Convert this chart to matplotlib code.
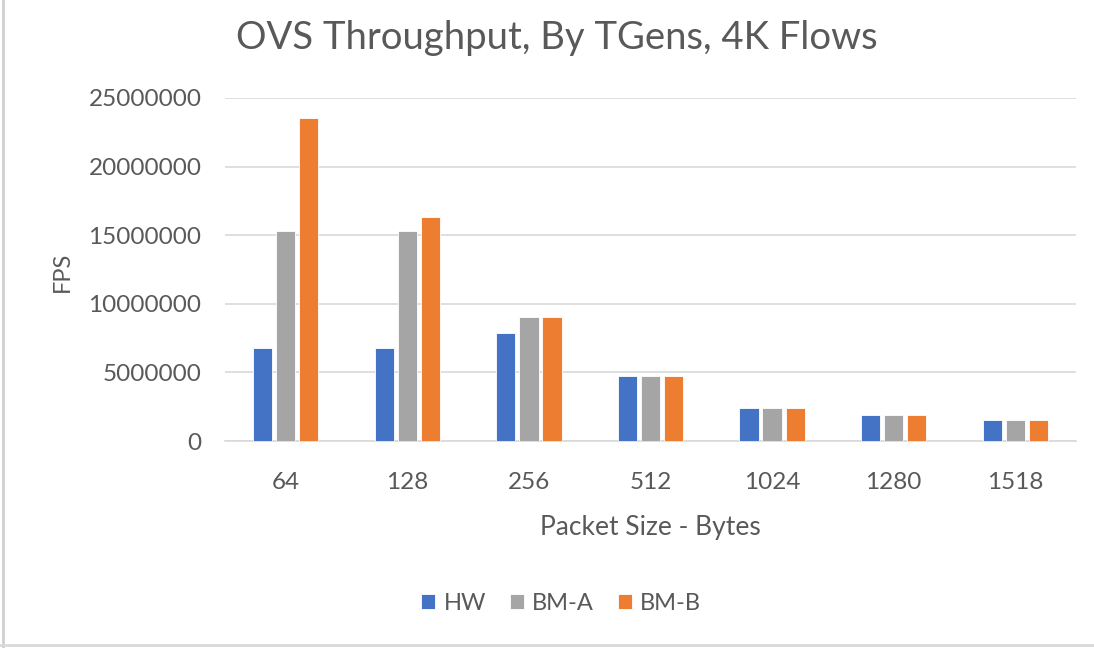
import matplotlib
matplotlib.use("Agg")
import matplotlib.pyplot as plt
import numpy as np
from matplotlib.lines import Line2D

categories = ["64", "128", "256", "512", "1024", "1280", "1518"]
series_names = ["HW", "BM-A", "BM-B"]
hw = [6760000, 6760000, 7900000, 4740000, 2390000, 1900000, 1550000]
bm_a = [15300000, 15300000, 9070000, 4740000, 2390000, 1900000, 1550000]
bm_b = [23530000, 16330000, 9070000, 4740000, 2390000, 1900000, 1550000]
yticks = [0, 5000000, 10000000, 15000000, 20000000, 25000000]
colors = ["#4472C4", "#A5A5A5", "#ED7D31"]
text_color = "#595959"

plt.rcParams['font.family'] = ['Lato', 'DejaVu Sans']

W, H = 1094, 648
fig = plt.figure(figsize=(W / 100, H / 100), dpi=100)
ax = fig.add_axes([225 / W, 1 - 441 / H, (1076 - 225) / W, (441 - 98) / H])

x = np.arange(len(categories))
width = 0.158
pitch = 0.19
for i, (vals, c, name) in enumerate(zip([hw, bm_a, bm_b], colors, series_names)):
    ax.bar(x + (i - 1) * pitch, vals, width=width, color=c, edgecolor="white",
           linewidth=0.6, label=name, zorder=3)

ax.set_xlim(-0.5, len(categories) - 0.5)
ax.set_ylim(0, 25000000)
ax.set_yticks(yticks)
ax.set_yticklabels([str(v) for v in yticks])
ax.set_xticks(x)
ax.set_xticklabels(categories)
ax.yaxis.grid(True, color="#D9D9D9", linewidth=1.2, zorder=0)
ax.set_axisbelow(True)
for s in ["top", "right", "left"]:
    ax.spines[s].set_visible(False)
ax.spines["bottom"].set_color("#D9D9D9")
ax.spines["bottom"].set_linewidth(1.2)
ax.tick_params(axis="both", length=0, colors=text_color, labelsize=17.5)
ax.tick_params(axis="y", pad=17)
ax.tick_params(axis="x", pad=22)

ax.set_xlabel("Packet Size - Bytes", fontsize=19, color=text_color, labelpad=16)
fig.text(62 / W, 1 - 272 / H, "FPS", rotation=90, fontsize=17, color=text_color,
         ha="center", va="center")
fig.text(557 / W, 1 - 38 / H, "OVS Throughput, By TGens, 4K Flows", fontsize=27.5,
         color=text_color, ha="center", va="center")

leg = fig.legend(loc="center", bbox_to_anchor=(561 / W, 1 - 603 / H), ncol=3,
                 frameon=False, fontsize=17, handlelength=0.6, handleheight=0.6,
                 handletextpad=0.35, columnspacing=1.0)
for t in leg.get_texts():
    t.set_color(text_color)

# figure border (left and bottom)
fig.add_artist(Line2D([3 / W, 3 / W], [0, 1], color="#D0D0D0", linewidth=2, transform=fig.transFigure))
fig.add_artist(Line2D([0, 1], [1 - 645 / H, 1 - 645 / H], color="#D9D9D9", linewidth=2, transform=fig.transFigure))

fig.savefig("out.png", dpi=100)
